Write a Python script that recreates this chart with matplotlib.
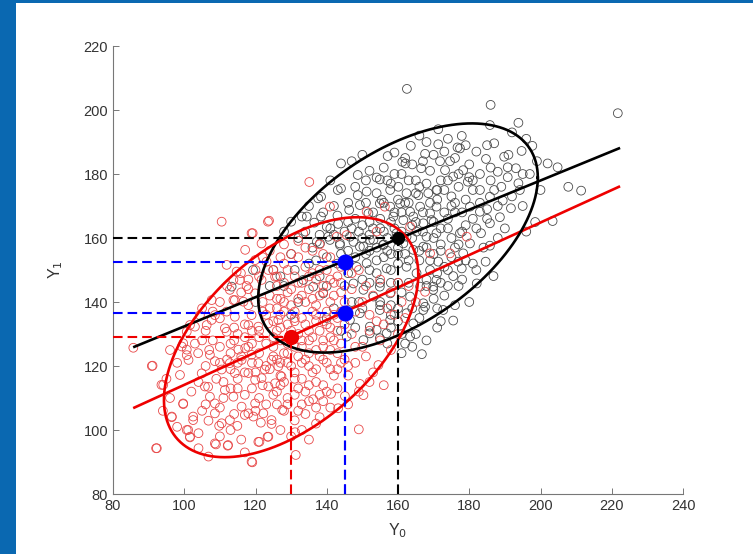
import numpy as np
import matplotlib
matplotlib.use("Agg")
import matplotlib.pyplot as plt
from matplotlib.patches import Rectangle

plt.rcParams["font.family"] = ["Liberation Sans", "DejaVu Sans"]

# --- black group (Y0, Y1)
black_pts = [
    (162.5,206.6),(186.0,201.6),(221.7,199.0),(193.8,196.0),(185.8,195.3),(177.9,191.9),(171.3,194.0),
    (176.7,188.3),(177.4,188.0),(171.3,189.3),(187.0,189.6),(197.7,188.8),(194.7,187.2),(184.7,184.7),
    (189.8,185.4),(202.0,183.3),(204.8,182.1),(188.0,180.7),(190.8,182.1),(193.1,181.8),(190.8,179.0),
    (193.8,177.1),(207.8,176.0),(211.4,174.8),(194.2,175.0),(167.6,186.3),(171.8,184.0),(174.6,184.0),
    (178.3,181.2),(179.6,177.6),(175.5,179.2),(173.2,181.2),(185.8,172.9),(189.4,171.7),(191.7,169.3),
    (188.6,166.5),(185.8,164.6),(183.3,161.5),(203.4,165.3),(183.0,168.2),(180.2,169.8),(185.8,157.6),
    (184.6,152.6),(178.3,155.2),(180.2,158.3),(177.4,161.5),(186.8,148.1),(182.1,145.8),(175.5,148.1),
    (177.9,150.5),(176.9,152.6),(171.3,152.6),(169.9,144.8),(167.6,138.5),(172.7,137.5),(175.5,134.2),
    (163.6,188.8),(157.1,185.6),(159.0,186.7),(161.2,183.8),(162.1,183.3),(166.5,181.8),(144.0,183.3),
    (148.7,179.7),(154.0,178.9),(154.9,178.3),(143.1,175.0),(144.0,175.5),(138.4,172.9),(148.7,173.4),
    (151.2,174.5),(138.4,166.7),(133.0,166.7),(130.0,165.1),(136.5,164.8),(140.0,163.5),(143.2,164.4),
    (146.3,168.8),(149.3,170.3),(151.7,167.7),(155.4,171.9),(157.8,175.0),(160.1,176.0),(162.4,174.0),
    (165.7,173.4),(168.5,174.0),(170.8,175.0),(154.9,170.8),(157.8,169.8),(160.6,170.8),(163.4,168.2),
    (166.2,169.8),(169.0,167.7),(170.8,169.8),(158.7,166.7),(161.5,165.6),(164.3,166.7),(167.1,164.6),
    (169.4,165.6),(159.6,161.5),(162.4,160.4),(165.2,162.0),(168.0,160.4),(170.8,161.5),(137.2,158.8),
    (140.4,160.4),(143.7,158.3),(146.5,160.4),(149.3,157.3),(152.1,159.4),(138.1,158.3),(140.9,159.4),
    (143.7,157.8),(147.5,158.8),(150.3,157.3),(153.1,159.4),(155.8,157.8),(161.5,158.3),(164.3,156.3),
    (167.1,157.3),(148.4,151.0),(151.2,152.1),(154.0,149.0),(156.8,150.5),(162.4,151.0),(165.2,149.0),
    (169.0,150.0),(170.8,146.9),(133.4,146.9),(136.2,144.8),(139.0,142.7),(147.5,145.8),(150.3,143.8),
    (153.1,141.7),(154.9,144.8),(157.8,142.7),(163.4,141.7),(167.1,139.6),(166.2,144.8),(169.9,143.8),
    (146.5,134.4),(149.3,136.5),(152.1,132.3),(154.9,137.5),(157.8,134.4),(154.0,131.3),(156.8,130.2),
    (162.4,136.5),(164.3,133.3),(167.1,137.5),(145.6,129.2),(150.3,128.1),(154.9,128.7),(152.1,130.2),
    (163.4,129.2),(166.7,123.7),(113.3,144.8),(119.3,150.0),(137.6,172.4),(134.4,166.7),(125.0,150.0),
    (130.0,155.0),(135.0,152.0),(128.0,145.0),(138.0,148.0),(132.0,140.0),(140.0,145.0),(142.0,138.0),
    (158.0,155.0),(156.0,162.0),(152.0,165.0),(172.0,158.0),(174.0,163.0),(175.0,170.0),(160.0,146.0),
    (158.0,139.0),(173.0,142.0),(176.0,157.0),(181.0,175.0),(182.0,163.0),(165.0,178.0),(159.0,180.0),
    (151.0,178.0),(147.0,163.0),(143.0,152.0),(160.0,152.0),(163.0,146.0),(170.0,155.0),(198.5,165.0),
    (168.0,128.0),(171.0,132.0),(161.0,124.0),(180.0,140.0),(196.0,162.0),(186.0,178.0),(200.0,175.0),
    (145,162),(148,166),(150,160),(153,163),(155,166),(157,160),(159,163),(161,168),(163,171),(165,165),
    (167,168),(169,171),(171,172),(173,175),(175,173),(177,176),(179,172),(181,178),(176,168),(174,166),
    (172,163),(170,160),(168,157),(166,153),(164,160),(162,155),(160,157),(158,150),(156,154),(154,157),
    (152,150),(150,147),(148,154),(146,149),(144,155),(142,161),(140,154),(138,161),(136,157),(134,162),
    (155,146),(158,146),(161,143),(164,138),(166,135),(168,147),(171,149),(173,151),(175,154),(177,158),
    (179,164),(181,166),(183,171),(185,169),(187,175),(183,180),(180,183),(176,185),(172,178),(169,181),
    (166,176),(163,178),(160,172),(157,178),(154,174),(151,171),(148,176),(146,171),(150,164),(152,156),
    (156,158),(146,156),(149,140),(152,146),(155,139),(160,138),(165,130),(158,132),(162,127),(170,141),
    (174,145),(178,147),(172,134),(176,139),(181,152),(184,157),(188,160),(190,163),(192,173),(195,170),
    (197,180),(199,184),(196,191),(192,193),(185,189),(182,187),(179,189),(174,191),(168,190),(166,192),
    (162,185),(156,182),(152,181),(147,184),(150,186),(142,170),(139,168),(141,178),(135,170),(132,160),
    (128,162),(131,150),(137,153),(127,148),(124,145),(120,140),(130,136),(140,135),(144,131),(148,132),
    (160,134),(164,126),(157,127),
    (152,161),(155,163),(158,165),(161,162),(164,164),(167,162),(170,165),(173,168),(176,171),(178,168),
    (151,155),(154,153),(157,156),(160,155),(163,153),(166,156),(169,153),(172,156),(175,160),(178,162),
    (153,168),(156,171),(159,168),(162,171),(165,174),(168,177),(171,175),(174,178),(177,180),(180,179),
    (149,162),(146,165),(143,167),(141,163),(158,177),(161,180),(164,183),(167,184),(170,186),(173,187),
    (155,140),(158,136),(161,130),(150,138),(147,140),(145,145),(168,145),(171,138),(174,150),(177,145),
    (185,166),(188,170),(183,175),(186,182),(189,176),(191,186),(195,180),(182,150),(179,153),(172,146),
]

# --- red group (Y0, Y1)
red_pts = [
    (85.7,125.7),(92.1,94.3),(110.5,165.1),(123.5,165.1),(118.9,161.5),(135.1,177.5),(140.9,169.8),
    (123.8,165.4),(119.2,161.5),(132.0,159.1),(149.0,100.2),(154.5,120.3),(169.0,155.2),(179.3,160.4),
    (167.6,143.2),(174.6,155.2),(119.1,89.9),(131.3,92.2),(106.8,91.7),(104.0,94.3),(108.9,95.5),
    (112.2,95.1),(101.6,97.7),(101.1,100.0),(121.1,96.3),(123.4,97.9),(131.1,99.3),(96.5,104.0),
    (99.7,108.1),(102.5,103.1),(106.8,102.9),(109.8,101.3),(114.9,101.3),(117.0,104.7),(119.4,104.2),
    (121.5,102.3),(124.5,101.9),(127.5,106.3),(136.2,109.6),(141.2,111.3),(143.2,106.8),(145.1,110.6),
    (149.3,114.4),(150.3,110.9),(115.9,149.0),(113.8,146.9),(117.5,145.0),(119.9,142.7),(113.8,140.6),
    (116.6,140.1),(121.7,146.9),(123.6,150.0),(125.5,147.9),(107.7,134.4),(110.0,134.9),(114.2,135.4),
    (118.9,135.9),(118.0,132.8),(120.8,132.3),(123.6,133.3),(126.4,134.4),(111.4,131.8),(111.9,130.7),
    (103.0,132.3),(100.7,130.7),(99.3,126.1),(100.7,125.1),(101.2,121.9),(103.9,124.0),(107.2,123.5),
    (108.6,121.5),(110.5,118.9),(112.8,120.9),(115.2,125.1),(117.1,125.6),(118.9,123.5),(120.8,120.9),
    (122.6,118.9),(124.5,121.9),(126.4,119.9),(116.1,121.9),(114.2,117.8),(118.0,117.8),(119.9,115.7),
    (121.7,116.2),(123.6,113.6),(125.5,114.6),(127.3,116.7),(94.1,114.1),(96.5,104.2),(99.7,108.3),
    (102.5,104.2),(105.8,113.6),(107.2,110.4),(108.6,108.3),(111.4,112.5),(113.8,110.4),(116.1,107.3),
    (118.0,105.2),(119.9,108.3),(122.2,105.2),(124.5,103.1),(108.6,105.2),(110.5,102.1),(112.8,103.1),
    (100.7,100.0),(101.6,97.9),(108.6,95.8),(112.3,95.3),(120.8,96.3),(123.6,97.9),(118.9,90.1),
    (92.3,94.3),(90.9,120.0),(133.4,161.5),(142.8,160.4),(145.6,160.9),(151.2,168.2),(156.3,169.8),
    (154.0,162.0),(163.4,163.5),(111.9,151.6),(114.7,149.5),(115.6,146.9),(112.8,143.8),(107.7,140.6),
    (114.2,140.6),(104.4,135.9),(108.6,135.9),(111.9,137.0),(101.6,132.8),(106.3,132.8),(99.7,127.1),
    (100.7,123.4),(91.1,120.1),(98.8,117.2),(104.9,117.7),(93.6,114.1),(106.7,113.5),(117.1,156.3),
    (121.7,158.3),(119.9,153.1),(123.1,152.6),(125.0,150.0),
    (128.0,152.0),(131.0,148.0),(134.0,151.0),(137.0,147.0),(140.0,150.0),(143.0,148.0),
    (126.0,145.0),(129.0,143.0),(132.0,141.0),(135.0,144.0),(138.0,142.0),(141.0,140.0),(144.0,143.0),
    (124.0,138.0),(127.0,136.0),(130.0,139.0),(133.0,135.0),(136.0,137.0),(139.0,134.0),(142.0,136.0),
    (145.0,133.0),(126.0,131.0),(129.0,133.0),(132.0,130.0),(135.0,128.0),(138.0,131.0),(141.0,129.0),
    (144.0,127.0),(147.0,130.0),(125.0,126.0),(128.0,124.0),(131.0,126.0),(134.0,122.0),(137.0,125.0),
    (140.0,121.0),(143.0,124.0),(146.0,120.0),(124.0,119.0),(127.0,117.0),(130.0,120.0),(133.0,116.0),
    (136.0,118.0),(139.0,114.0),(142.0,117.0),(126.0,112.0),(129.0,110.0),(132.0,113.0),(135.0,109.0),
    (138.0,111.0),(141.0,107.0),(128.0,106.0),(131.0,103.0),(134.0,105.0),(137.0,102.0),(130.0,98.0),
    (147.0,144.0),(150.0,140.0),(152.0,136.0),(148.0,126.0),(151.0,123.0),(155.0,128.0),(153.0,118.0),
    (149.0,112.0),(156.0,114.0),(158.0,125.0),(160.0,130.0),(157.0,138.0),(162.0,135.0),(165.0,140.0),
    (146.0,108.0),(152.0,115.0),(132.0,154.0),(136.0,156.0),(128.0,158.0),(139.0,155.0),(146.0,153.0),
    (121.0,129.0),(123.0,127.0),(117.0,129.0),(113.0,127.0),(105.0,128.0),(96.0,110.0),(115.0,113.0),
    (115,130),(117,133),(119,127),(121,131),(123,136),(125,129),(127,132),(129,127),(131,134),(133,128),
    (135,131),(137,134),(139,128),(141,132),(143,135),(113,124),(115,121),(117,118),(119,121),(121,124),
    (123,120),(125,123),(127,121),(129,124),(131,118),(133,121),(135,124),(137,119),(139,122),(141,125),
    (143,119),(145,122),(111,115),(113,113),(115,116),(117,111),(119,113),(121,110),(123,108),(125,111),
    (127,114),(129,108),(131,111),(133,108),(135,114),(137,107),(139,109),(110,126),(108,128),(106,120),
    (104,115),(106,108),(110,107),(114,105),(102,112),(98,121),(96,125),(95,116),(94,106),(98,101),
    (104,99),(110,98),(116,97),(127,100),(133,100),(138,104),(143,113),(146,117),(148,121),(150,126),
    (152,131),(154,134),(156,133),(159,136),(161,140),(163,145),(160,146),(158,143),(155,147),(153,142),
    (151,145),(149,150),(147,149),(144,151),(141,154),(138,158),(134,157),(130,155),(127,154),(124,156),
    (122,154),(120,150),(118,147),(116,143),(112,145),(110,140),(108,137),(105,138),(103,127),(106,131),
    (110,121),(113,119),(118,139),(122,140),(126,141),(128,146),(133,146),(136,149),(139,145),(142,146),
    (145,140),(148,137),(144,137),(140,137),(137,139),(134,140),(131,137),(128,140),(126,138),
    (126,148),(129,150),(132,146),(135,148),(138,150),(141,147),(144,146),(127,141),(130,144),(133,142),
    (136,141),(139,143),(142,142),(125,134),(128,137),(131,135),(134,133),(137,136),(140,133),(143,131),
    (127,128),(130,131),(133,126),(136,129),(139,126),(142,128),(126,122),(129,121),(132,123),(135,120),
    (138,123),(141,119),(144,121),(128,115),(131,116),(134,112),(137,115),(140,112),(118,126),(120,118),
    (122,114),(116,123),(114,128),(119,131),(122,137),(124,142),(118,144),(121,148),(114,132),(112,122),
    (109,116),(107,125),(111,110),(105,106),(120,106),(126,108),(132,106),(135,97),(113,100),(117,93),
]

# regression lines (endpoints) and ellipse shapes
black_line_x = [86, 222]
black_line_y = [126, 188]
red_line_x = [86, 222]
red_line_y = [107, 176]
black_center = [160, 160]
black_shape = [[1540, 740], [740, 1282]]
red_center = [130, 129]
red_shape = [[1274, 700], [700, 1406]]

# dashed guides and filled markers
black_mark = (160, 160)
blue_marks = [(145, 152.5), (145, 136.5)]
red_mark = (130, 129)

fig = plt.figure(figsize=(7.53, 5.54), dpi=100, facecolor="#0a68b1")
bg = fig.add_axes([16/753, 0, 1 - 16/753, 1 - 3/554], zorder=-5)
bg.axis("off")
bg.add_patch(Rectangle((0, 0), 1, 1, transform=bg.transAxes, facecolor="white", edgecolor="none"))

ax = fig.add_axes([113/753, 60/554, 570/753, 448/554], zorder=1)
ax.set_facecolor("none")

bx, by = zip(*black_pts)
rx, ry = zip(*red_pts)
ax.scatter(bx, by, s=40, facecolors="none", edgecolors="#4a4a4a", linewidths=0.6, zorder=2)
ax.scatter(rx, ry, s=40, facecolors="none", edgecolors="#e84848", linewidths=0.6, zorder=2)

ax.plot(black_line_x, black_line_y, color="black", lw=1.9, zorder=3)
ax.plot(red_line_x, red_line_y, color="#ee0000", lw=1.9, zorder=3)

t = np.linspace(0, 2*np.pi, 300)
for c, S, col in [(black_center, black_shape, "black"), (red_center, red_shape, "#ee0000")]:
    L = np.linalg.cholesky(np.array(S, dtype=float))
    pts = L @ np.vstack([np.cos(t), np.sin(t)])
    ax.plot(c[0] + pts[0], c[1] + pts[1], color=col, lw=1.9, zorder=3)

dash = (0, (4.6, 2.4))
def guide(x, y, col):
    ax.plot([80, x], [y, y], color=col, lw=1.5, ls=dash, zorder=4)
    ax.plot([x, x], [80, y], color=col, lw=1.5, ls=dash, zorder=4)

guide(black_mark[0], black_mark[1], "black")
for bm in blue_marks:
    guide(bm[0], bm[1], "#0000ff")
guide(red_mark[0], red_mark[1], "#ee0000")

ax.plot(*black_mark, "o", color="black", ms=8.5, zorder=5)
for bm in blue_marks:
    ax.plot(*bm, "o", color="#0000ff", ms=10.5, zorder=5)
ax.plot(*red_mark, "o", color="#ee0000", ms=10, zorder=5)

ax.set_xlim(80, 240)
ax.set_ylim(80, 220)
ax.set_xticks(range(80, 241, 20))
ax.set_yticks(range(80, 221, 20))
for s in ["top", "right"]:
    ax.spines[s].set_visible(False)
for s in ["left", "bottom"]:
    ax.spines[s].set_color("#777777")
    ax.spines[s].set_linewidth(0.8)
ax.tick_params(direction="in", length=4, width=0.7, color="#777777",
               labelsize=10.5, labelcolor="#333333")
ax.set_xlabel("Y$_0$", fontsize=11.5, color="#333333", labelpad=6)
ax.set_ylabel("Y$_1$", fontsize=11.5, color="#333333", labelpad=13)

fig.savefig("out.png", dpi=100, facecolor=fig.get_facecolor())
